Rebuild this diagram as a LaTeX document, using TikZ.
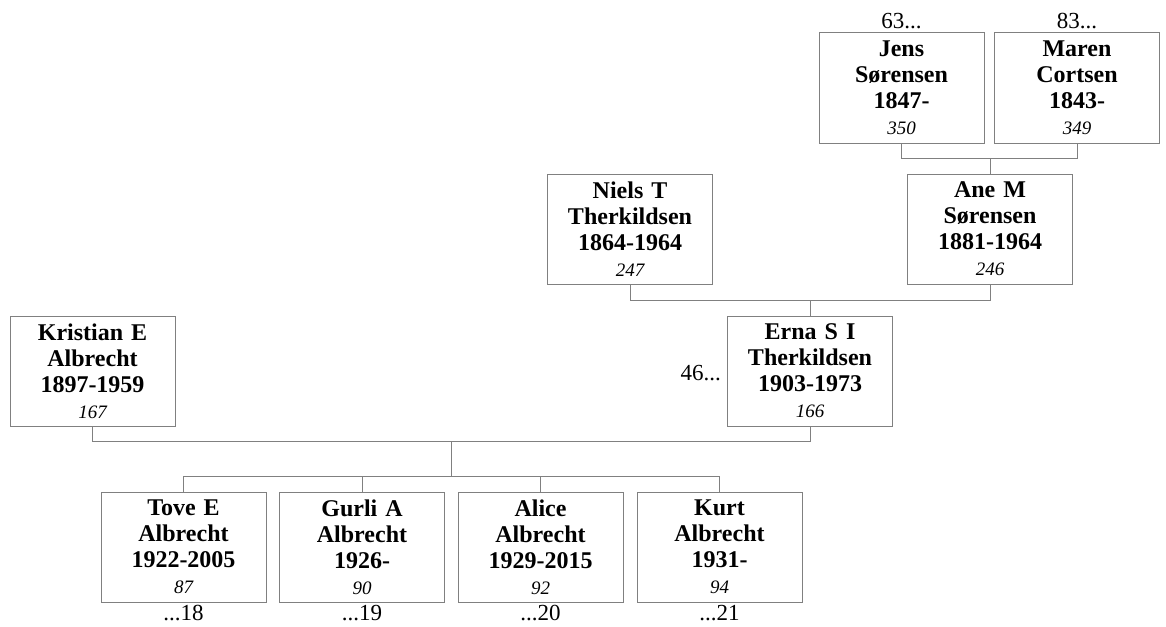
\documentclass[tikz,border=0pt]{standalone}
\usepackage{fontspec}
\setmainfont{Liberation Serif}
\usetikzlibrary{calc}
\definecolor{boxgray}{RGB}{128,128,128}
\newcommand{\pcard}[4]{#1\\#2\\#3\\{\fontsize{19}{26}\selectfont\mdseries\itshape #4}}

\begin{document}
\begin{tikzpicture}[x=1pt, y=-1pt,
	person/.style={draw=boxgray, line width=1pt, rectangle, minimum width=165pt, minimum height=110pt, inner sep=0pt, text width=163pt, align=center, font=\fontsize{24}{26}\selectfont\bfseries},
	link/.style={draw=boxgray, line width=1pt},
	lbl/.style={inner sep=0pt, font=\fontsize{23}{24}\selectfont}]
			\useasboundingbox (0,0) rectangle (1166,626);
			
			% Great-grandparents
			\node[person] (jens) at (901.5,88) {\pcard{Jens}{Sørensen}{1847-}{350}};
			\node[person] (maren) at (1077,88) {\pcard{Maren}{Cortsen}{1843-}{349}};
			\node[lbl, anchor=base] (jensup) at ([yshift=4pt]jens.north) {63...};
			\node[lbl, anchor=base] (marenup) at ([yshift=4pt]maren.north) {83...};
			
			% Grandparents
			\node[person] (niels) at (630,229) {\pcard{Niels T}{Therkildsen}{1864-1964}{247}};
			\node[person] (ane) at (990,229) {\pcard{Ane M}{Sørensen}{1881-1964}{246}};
			
			% Parents
			\node[person] (kristian) at (92.5,371) {\pcard{Kristian E}{Albrecht}{1897-1959}{167}};
			\node[person] (erna) at (810,371) {\pcard{Erna S I}{Therkildsen}{1903-1973}{166}};
			\node[lbl, anchor=base east] (ernaleft) at ([xshift=-6pt,yshift=-9pt]erna.west) {46...};
			
			% Children
			\node[person] (tove) at (183.5,547) {\pcard{Tove E}{Albrecht}{1922-2005}{87}};
			\node[person] (gurli) at (362,547) {\pcard{Gurli A}{Albrecht}{1926-}{90}};
			\node[person] (alice) at (540.5,547) {\pcard{Alice}{Albrecht}{1929-2015}{92}};
			\node[person] (kurt) at (719.5,547) {\pcard{Kurt}{Albrecht}{1931-}{94}};
			\foreach \kid/\num in {tove/18, gurli/19, alice/20, kurt/21}
				\node[lbl, anchor=base] (\kid down) at ([yshift=-18pt]\kid.south) {...\num};
			
			% Couple lines
			\draw[link] (jens.south) -- ++(0,15) coordinate (jm) -| (maren.south);
			\draw[link] (jm -| ane.north) -- (ane.north);
			\draw[link] (niels.south) -- ++(0,16) coordinate (na) -| (ane.south);
			\draw[link] (na -| erna.north) -- (erna.north);
			\draw[link] (kristian.south) -- ++(0,15) coordinate (ke) -| (erna.south);
			\coordinate (kemid) at ($(kristian.south|-ke)!0.5!(erna.south|-ke)$);
			
			% Children line
			\draw[link] (kemid) -- ++(0,35) coordinate (kids);
			\draw[link] (tove.north) -- (tove.north|-kids) -- (kurt.north|-kids) -- (kurt.north);
			\draw[link] (gurli.north) -- (gurli.north|-kids);
			\draw[link] (alice.north) -- (alice.north|-kids);
\end{tikzpicture}
\end{document}
